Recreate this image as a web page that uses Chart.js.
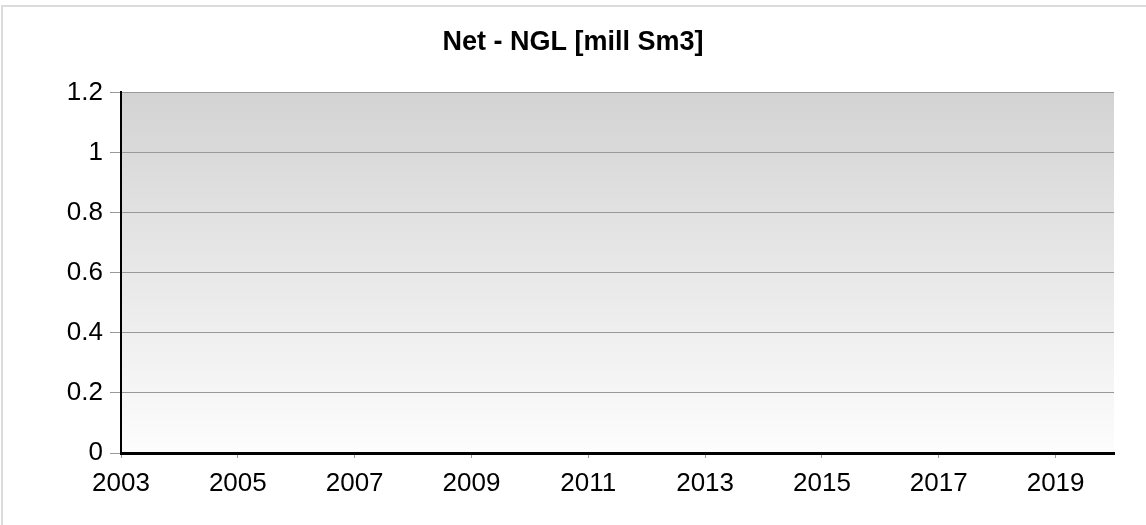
<!DOCTYPE html>
<html>
<head>
<meta charset="utf-8">
<script src="https://cdn.jsdelivr.net/npm/chart.js@4/dist/chart.umd.min.js"></script>
<style>
  html, body { margin: 0; padding: 0; background: #fff; overflow: hidden; }
  #frame {
    position: absolute; left: 1px; top: 5px; width: 1200px; height: 600px;
    border-left: 2px solid #dcdcdc; border-top: 2px solid #dcdcdc;
  }
  #wrap { position: absolute; left: 0; top: 0; width: 1146px; height: 525px; }
</style>
</head>
<body>
<div id="frame"></div>
<div id="wrap"><canvas id="chart"></canvas></div>
<script>
// chart data
const years = [2003, 2004, 2005, 2006, 2007, 2008, 2009, 2010, 2011, 2012, 2013, 2014, 2015, 2016, 2017, 2018, 2019, 2020];
const ngl = [0, 0, 0, 0, 0, 0, 0, 0, 0, 0, 0, 0, 0, 0, 0, 0, 0, 0];
const xTicks = [2003, 2005, 2007, 2009, 2011, 2013, 2015, 2017, 2019];
const yTicks = [0, 0.2, 0.4, 0.6, 0.8, 1, 1.2];

const font = 'Liberation Sans, Arial, sans-serif';

// gray-to-white gradient behind the plot
const plotBackground = {
  id: 'plotBackground',
  beforeDraw(chart) {
    const { ctx, chartArea: a } = chart;
    const g = ctx.createLinearGradient(0, a.top, 0, a.bottom);
    g.addColorStop(0, '#d3d3d3');
    g.addColorStop(1, '#fdfdfd');
    ctx.save();
    ctx.fillStyle = g;
    ctx.fillRect(a.left, a.top, a.right - a.left, a.bottom - a.top);
    ctx.restore();
  }
};

new Chart(document.getElementById('chart'), {
  type: 'line',
  data: {
    datasets: [{
      label: 'Net - NGL',
      data: years.map((y, i) => ({ x: y, y: ngl[i] })),
      borderColor: '#000',
      borderWidth: 2,
      pointRadius: 0
    }]
  },
  options: {
    responsive: true,
    maintainAspectRatio: false,
    animation: false,
    // equal side padding keeps the title centred on the whole image
    layout: { padding: { left: 32, right: 32, top: 0, bottom: 0 } },
    plugins: {
      legend: { display: false },
      tooltip: { enabled: false },
      title: {
        display: true,
        text: 'Net - NGL [mill Sm3]',
        color: '#000',
        font: { family: font, size: 27, weight: 'bold' },
        padding: { top: 26, bottom: 34 }
      }
    },
    scales: {
      x: {
        type: 'linear',
        min: 2003,
        max: 2020,
        afterBuildTicks: s => { s.ticks = xTicks.map(v => ({ value: v })); },
        afterFit: s => { s.height = 72; },
        ticks: {
          color: '#000',
          font: { family: font, size: 26 },
          padding: 10,
          maxRotation: 0,
          autoSkip: false,
          callback: v => String(v)
        },
        grid: { drawOnChartArea: false, tickLength: 5, color: '#999' },
        border: { color: '#000', width: 3 }
      },
      y: {
        min: 0,
        max: 1.2,
        afterBuildTicks: s => { s.ticks = yTicks.map(v => ({ value: v })); },
        afterFit: s => { s.width = 89; },
        ticks: {
          color: '#000',
          font: { family: font, size: 26 },
          padding: 7,
          callback: v => String(v)
        },
        grid: { color: '#999', tickLength: 11, lineWidth: 1 },
        border: { color: '#000', width: 2 }
      }
    }
  },
  plugins: [plotBackground]
});
</script>
</body>
</html>
